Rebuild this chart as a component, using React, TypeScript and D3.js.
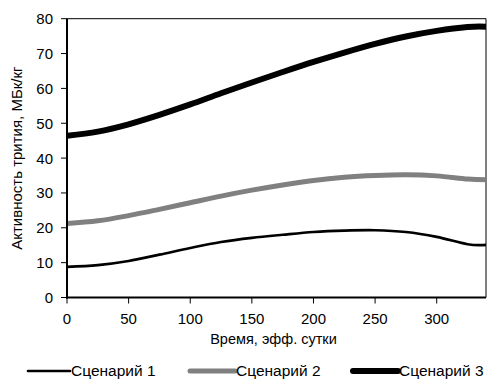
import React from "react";
import * as d3 from "d3";

const days = [0, 25, 50, 75, 100, 125, 150, 175, 200, 225, 250, 275, 300, 325, 340];
const scenario1 = [8.8, 9.3, 10.5, 12.3, 14.2, 15.9, 17.1, 18.0, 18.8, 19.2, 19.3, 18.8, 17.4, 15.3, 15.1];
const scenario2 = [21.2, 22.0, 23.5, 25.3, 27.2, 29.1, 30.8, 32.3, 33.6, 34.5, 35.0, 35.2, 34.9, 34.0, 33.8];
const scenario3 = [46.4, 47.6, 49.7, 52.4, 55.4, 58.6, 61.7, 64.7, 67.6, 70.3, 72.8, 74.9, 76.5, 77.6, 77.7];
const seriesNames = ["Сценарий 1", "Сценарий 2", "Сценарий 3"];
const xTicks = [0, 50, 100, 150, 200, 250, 300];
const yTicks = [0, 10, 20, 30, 40, 50, 60, 70, 80];
const xTitle = "Время, эфф. сутки";
const yTitle = "Активность трития, МБк/кг";

const W = 488;
const H = 380;
const L = 67, R = 486, T = 18.7, B = 297.5;
const FONT = "'Liberation Sans', Arial, sans-serif";

export default function App() {
  const x = d3.scaleLinear().domain([0, 340]).range([L, R]);
  const y = d3.scaleLinear().domain([0, 80]).range([B, T]);
  const line = d3
    .line<number>()
    .x((_, i) => x(days[i]))
    .y((d) => y(d))
    .curve(d3.curveCardinal.tension(0));

  const styles = [
    { color: "#000000", width: 2.6 },
    { color: "#808080", width: 5 },
    { color: "#000000", width: 6 },
  ];
  const data = [scenario1, scenario2, scenario3];
  const legendX = [28, 190, 353];
  const legendLen = [42, 45, 45];

  return (
    <svg
      width={W}
      height={H}
      style={{ position: "absolute", left: 0, top: 0, background: "#fff" }}
      fontFamily={FONT}
    >
      <rect x={0} y={0} width={W} height={H} fill="#fff" />
      <defs>
        <clipPath id="plot">
          <rect x={L} y={T - 4} width={R - L} height={B - T + 4} />
        </clipPath>
      </defs>
      <line x1={L} x2={R} y1={T} y2={T} stroke="#000" strokeWidth={1} />
      <line x1={R} x2={R} y1={T} y2={B} stroke="#000" strokeWidth={1} />
      <g clipPath="url(#plot)">
        {data.map((s, i) => (
          <path
            key={i}
            d={line(s) || ""}
            fill="none"
            stroke={styles[i].color}
            strokeWidth={styles[i].width}
            strokeLinejoin="round"
          />
        ))}
      </g>
      <line x1={L} x2={L} y1={T} y2={B + 1} stroke="#000" strokeWidth={2} />
      <line x1={L - 1} x2={R} y1={B} y2={B} stroke="#000" strokeWidth={2} />
      {yTicks.map((t) => (
        <g key={"y" + t}>
          <line x1={L - 6} x2={L} y1={y(t)} y2={y(t)} stroke="#000" strokeWidth={1} />
          <text x={53} y={y(t)} dy="0.36em" textAnchor="end" fontSize={15} fill="#000">
            {t}
          </text>
        </g>
      ))}
      {xTicks.map((t) => (
        <g key={"x" + t}>
          <line x1={x(t)} x2={x(t)} y1={B} y2={B + 6} stroke="#000" strokeWidth={1} />
          <text x={x(t)} y={324} textAnchor="middle" fontSize={15} fill="#000">
            {t}
          </text>
        </g>
      ))}
      <text x={(L + R) / 2 - 3} y={344} textAnchor="middle" fontSize={14.5} fill="#000">
        {xTitle}
      </text>
      <text
        transform={`translate(21.5, ${(T + B) / 2}) rotate(-90)`}
        textAnchor="middle"
        fontSize={15}
        fill="#000"
      >
        {yTitle}
      </text>
      {seriesNames.map((n, i) => (
        <g key={n}>
          <line
            x1={legendX[i]}
            x2={legendX[i] + legendLen[i]}
            y1={371}
            y2={371}
            stroke={styles[i].color}
            strokeWidth={styles[i].width}
            strokeLinecap="round"
          />
          <text x={legendX[i] + legendLen[i] + 1} y={376} fontSize={15.5} fill="#000">
            {n}
          </text>
        </g>
      ))}
    </svg>
  );
}
